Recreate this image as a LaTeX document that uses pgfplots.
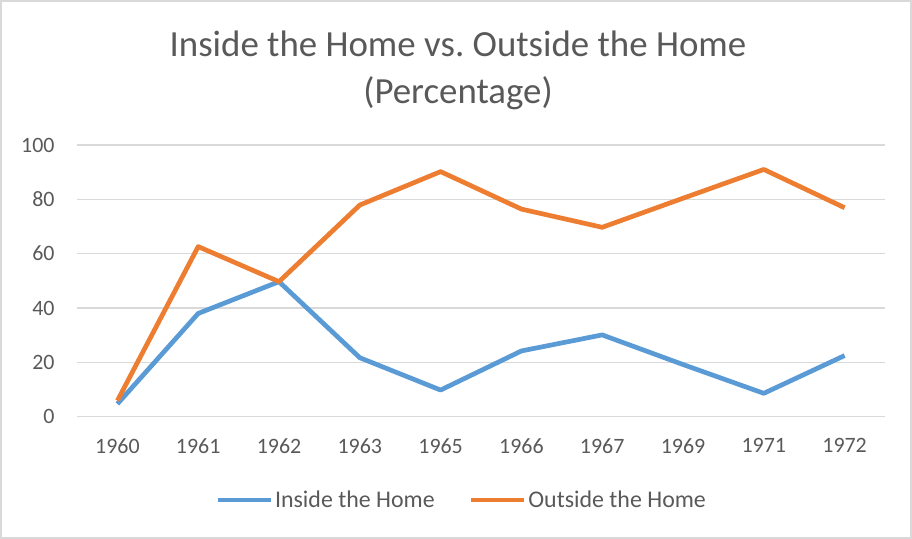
\documentclass[border=0pt]{standalone}
\usepackage{fontspec}
\setmainfont{Carlito}
\usepackage{pgfplots}
\pgfplotsset{compat=1.18}
\definecolor{cblue}{HTML}{5B9BD5}
\definecolor{corange}{HTML}{ED7D31}
\definecolor{cgrid}{HTML}{D9D9D9}
\definecolor{ctext}{HTML}{595959}
\begin{document}
\begin{tikzpicture}[x=1bp,y=1bp]
\path[use as bounding box] (0,0) rectangle (912,539);
\draw[cgrid, line width=1.5bp] (1,1) rectangle (911,538);
\node[text=ctext, align=center, font=\fontsize{37}{47}\selectfont] at (458,469) {Inside the Home vs.\ Outside the Home\\(Percentage)};
\begin{axis}[
  at={(77bp,122.3bp)}, anchor=south west,
  scale only axis, width=808bp, height=271.7bp,
  xmin=-0.5, xmax=9.5, ymin=0, ymax=100,
  xtick={0,...,9},
  xticklabels={1960,1961,1962,1963,1965,1966,1967,1969,1971,1972},
  ytick={0,20,...,100},
  axis line style={draw=none},
  major tick length=0pt,
  ymajorgrids, grid style={cgrid, line width=1.5bp},
  tick label style={text=ctext, font=\fontsize{22}{26}\selectfont},
  /pgf/number format/assume math mode=true,
  yticklabel style={xshift=-19bp},
  xticklabel style={yshift=-18bp},
  legend columns=2,
  legend style={at={(axis description cs:0.476,-0.3066)}, anchor=center, draw=none, fill=none,
    font=\fontsize{24}{28}\selectfont, text=ctext,
    /tikz/every even column/.append style={column sep=32bp}},
  legend image code/.code={\draw[#1, line width=4.7bp] (0bp,0bp) -- (53bp,0bp);},
  clip=false,
]
\addplot[cblue, line width=4.7bp, line join=round] coordinates {
 (0,4.7) (1,38) (2,49.7) (3,21.7) (4,9.8) (5,24.2) (6,30.1) (7,19.2) (8,8.6) (9,22.5)};
\addlegendentry{Inside the Home}
\addplot[corange, line width=4.7bp, line join=round] coordinates {
 (0,5.9) (1,62.6) (2,49.7) (3,77.9) (4,90.2) (5,76.4) (6,69.7) (7,80.4) (8,91) (9,76.9)};
\addlegendentry{Outside the Home}
\end{axis}
\end{tikzpicture}
\end{document}
